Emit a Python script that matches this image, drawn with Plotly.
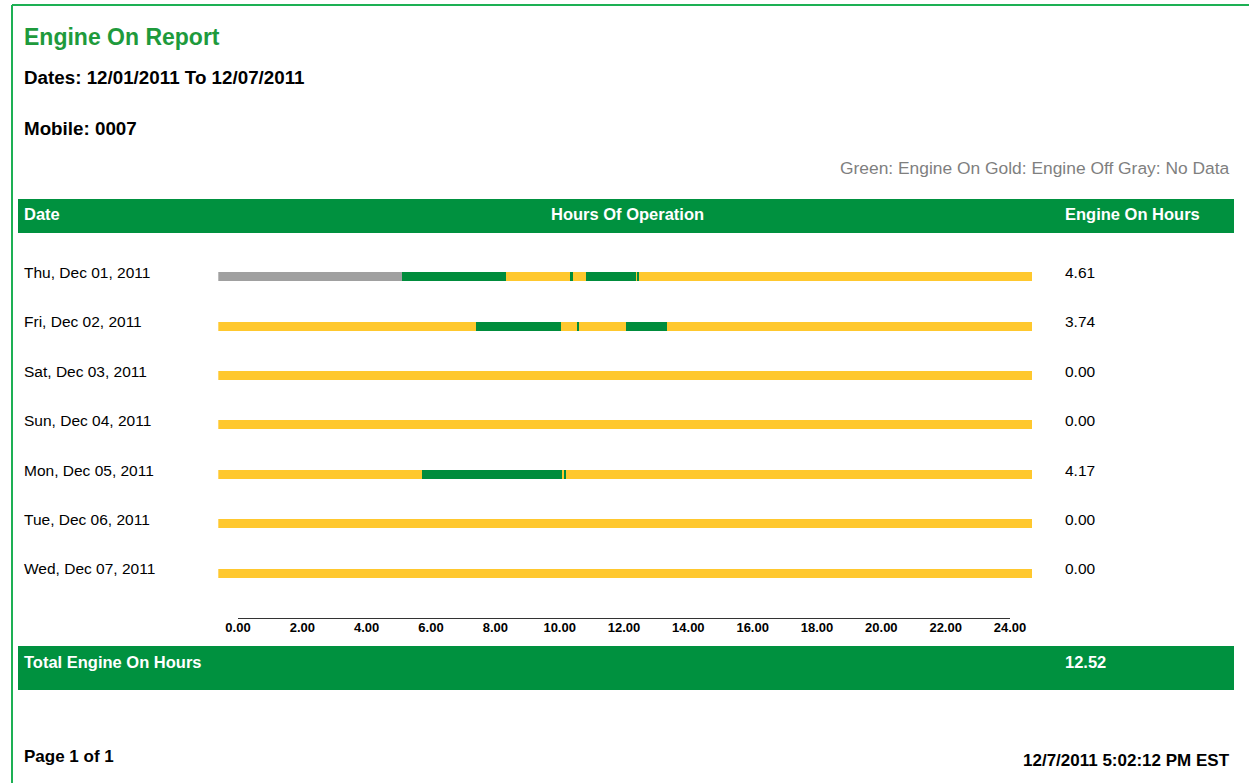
import plotly.graph_objects as go

W, H = 1249, 783

# ---------------- data ----------------
dates = ["Thu, Dec 01, 2011", "Fri, Dec 02, 2011", "Sat, Dec 03, 2011",
         "Sun, Dec 04, 2011", "Mon, Dec 05, 2011", "Tue, Dec 06, 2011",
         "Wed, Dec 07, 2011"]
engine_on_hours = ["4.61", "3.74", "0.00", "0.00", "4.17", "0.00", "0.00"]
total_engine_on = "12.52"

# state-change times (hours of day) and the state of each interval
thu_times = [0, 5.41, 8.48, 10.40, 10.45, 10.83, 12.32, 12.36, 12.41, 24]
thu_states = ["nodata", "on", "off", "on", "off", "on", "off", "on", "off"]
fri_times = [0, 7.59, 10.11, 10.57, 10.63, 12.03, 13.22, 24]
fri_states = ["off", "on", "off", "on", "off", "on", "off"]
sat_times = [0, 24]
sat_states = ["off"]
sun_times = [0, 24]
sun_states = ["off"]
mon_times = [0, 6.01, 10.14, 10.19, 10.25, 24]
mon_states = ["off", "on", "off", "on", "off"]
tue_times = [0, 24]
tue_states = ["off"]
wed_times = [0, 24]
wed_states = ["off"]

tick_hours = [0, 2, 4, 6, 8, 10, 12, 14, 16, 18, 20, 22, 24]
tick_labels = ["0.00", "2.00", "4.00", "6.00", "8.00", "10.00", "12.00",
               "14.00", "16.00", "18.00", "20.00", "22.00", "24.00"]

day_times = [thu_times, fri_times, sat_times, sun_times, mon_times, tue_times, wed_times]
day_states = [thu_states, fri_states, sat_states, sun_states, mon_states, tue_states, wed_states]

# ---------------- styles ----------------
FONT = "Liberation Sans, Arial, sans-serif"
state_colors = {"off": "#FFC82E", "on": "#008C3C", "nodata": "#A0A0A0"}
HEADER_GREEN = "#00913F"
BORDER_GREEN = "#1DB054"
TITLE_GREEN = "#1E9A3C"


def px(x):
    return x / W


def py(y):
    return 1 - y / H


fig = go.Figure()

for state in ["nodata", "off", "on"]:
    ys, bases, lens = [], [], []
    for i, (times, states) in enumerate(zip(day_times, day_states)):
        for k, s in enumerate(states):
            if s == state:
                ys.append(i)
                bases.append(times[k])
                lens.append(times[k + 1] - times[k])
    fig.add_trace(go.Bar(
        y=ys, x=lens, base=bases, orientation="h", width=0.18,
        marker=dict(color=state_colors[state], line=dict(width=0)),
        hoverinfo="skip", showlegend=False, xaxis="x", yaxis="y"))

# invisible trace to carry the hour scale
fig.add_trace(go.Scatter(x=tick_hours, y=[0] * len(tick_hours), mode="markers",
                         marker=dict(opacity=0), hoverinfo="skip",
                         showlegend=False, xaxis="x2", yaxis="y2"))

row0, step = 276.5, 49.4
y_top = row0 - 0.5 * step
y_bot = row0 + 6.5 * step

shapes = [
    # outer border
    dict(type="line", xref="paper", yref="paper", x0=px(12), x1=px(1249), y0=py(5), y1=py(5),
         line=dict(color=BORDER_GREEN, width=2)),
    dict(type="line", xref="paper", yref="paper", x0=px(12), x1=px(12), y0=py(5), y1=py(783),
         line=dict(color=BORDER_GREEN, width=2)),
    # header bar
    dict(type="rect", xref="paper", yref="paper", x0=px(18), x1=px(1234), y0=py(233), y1=py(199),
         fillcolor=HEADER_GREEN, line=dict(width=0), layer="below"),
    # footer bar
    dict(type="rect", xref="paper", yref="paper", x0=px(18), x1=px(1234), y0=py(690), y1=py(646),
         fillcolor=HEADER_GREEN, line=dict(width=0), layer="below"),
]

ann = []


def txt(x, y, s, size, color="#000", bold=False, xanchor="left", **kw):
    shift = {"left": -2, "right": 2, "center": 0}[xanchor]
    ann.append(dict(x=x, y=y, text=s, showarrow=False, xanchor=xanchor, yanchor="middle",
                    xshift=shift,
                    font=dict(family=FONT, size=size, color=color,
                              weight="bold" if bold else "normal"), **kw))


txt(px(24), py(37), "Engine On Report", 23, TITLE_GREEN, True, xref="paper", yref="paper")
txt(px(24), py(78), "Dates: 12/01/2011 To 12/07/2011", 18.8, "#000", True, xref="paper", yref="paper")
txt(px(24), py(128), "Mobile: 0007", 18.8, "#000", True, xref="paper", yref="paper")
txt(px(1230), py(168), "Green: Engine On Gold: Engine Off Gray: No Data", 17.4, "#7F7F7F", False,
    xanchor="right", xref="paper", yref="paper")
txt(px(24), py(214), "Date", 16.5, "#FFFFFF", True, xref="paper", yref="paper")
txt(px(627), py(214), "Hours Of Operation", 16.5, "#FFFFFF", True, xanchor="center",
    xref="paper", yref="paper")
txt(px(1065), py(214), "Engine On Hours", 16.5, "#FFFFFF", True, xref="paper", yref="paper")
txt(px(24), py(662), "Total Engine On Hours", 16.5, "#FFFFFF", True, xref="paper", yref="paper")
txt(px(1065), py(662), total_engine_on, 16.5, "#FFFFFF", True, xref="paper", yref="paper")
txt(px(24), py(756), "Page 1 of 1", 17, "#000", True, xref="paper", yref="paper")
txt(px(1230), py(760), "12/7/2011 5:02:12 PM EST", 17, "#000", True, xanchor="right",
    xref="paper", yref="paper")

for i, (d, h) in enumerate(zip(dates, engine_on_hours)):
    txt(px(24), i, d, 15.5, "#000", False, xref="paper", yref="y", yshift=4)
    txt(px(1065), i, h, 15.5, "#000", False, xref="paper", yref="y", yshift=4)

fig.update_layout(
    width=W, height=H, margin=dict(l=0, r=0, t=0, b=0, pad=0, autoexpand=False), autosize=False,
    paper_bgcolor="white", plot_bgcolor="rgba(0,0,0,0)",
    barmode="overlay", bargap=0, showlegend=False,
    shapes=shapes, annotations=ann,
    xaxis=dict(domain=[px(218.3), px(1032.7)], range=[0, 24], visible=False,
               fixedrange=True, automargin=False),
    yaxis=dict(domain=[py(y_bot), py(y_top)], range=[6.5, -0.5], visible=False,
               fixedrange=True, automargin=False),
    xaxis2=dict(domain=[px(238), px(1010)], range=[0, 24], anchor="y2",
                showline=True, linecolor="#333333", linewidth=1, showgrid=False,
                zeroline=False, ticks="", tickvals=tick_hours, ticktext=tick_labels,
                ticklabelstandoff=-3, automargin=False,
                tickfont=dict(family=FONT, size=13, color="#000", weight="bold"),
                fixedrange=True),
    yaxis2=dict(domain=[py(618), py(600)], visible=False, range=[-1, 1],
                fixedrange=True, automargin=False),
)

post = ("document.body.style.margin='0';document.body.style.padding='0';"
        "document.body.style.overflow='hidden';"
        "document.documentElement.style.overflow='hidden';")

fig.write_html("out.html", config={"displayModeBar": False, "responsive": False},
               post_script=post)
